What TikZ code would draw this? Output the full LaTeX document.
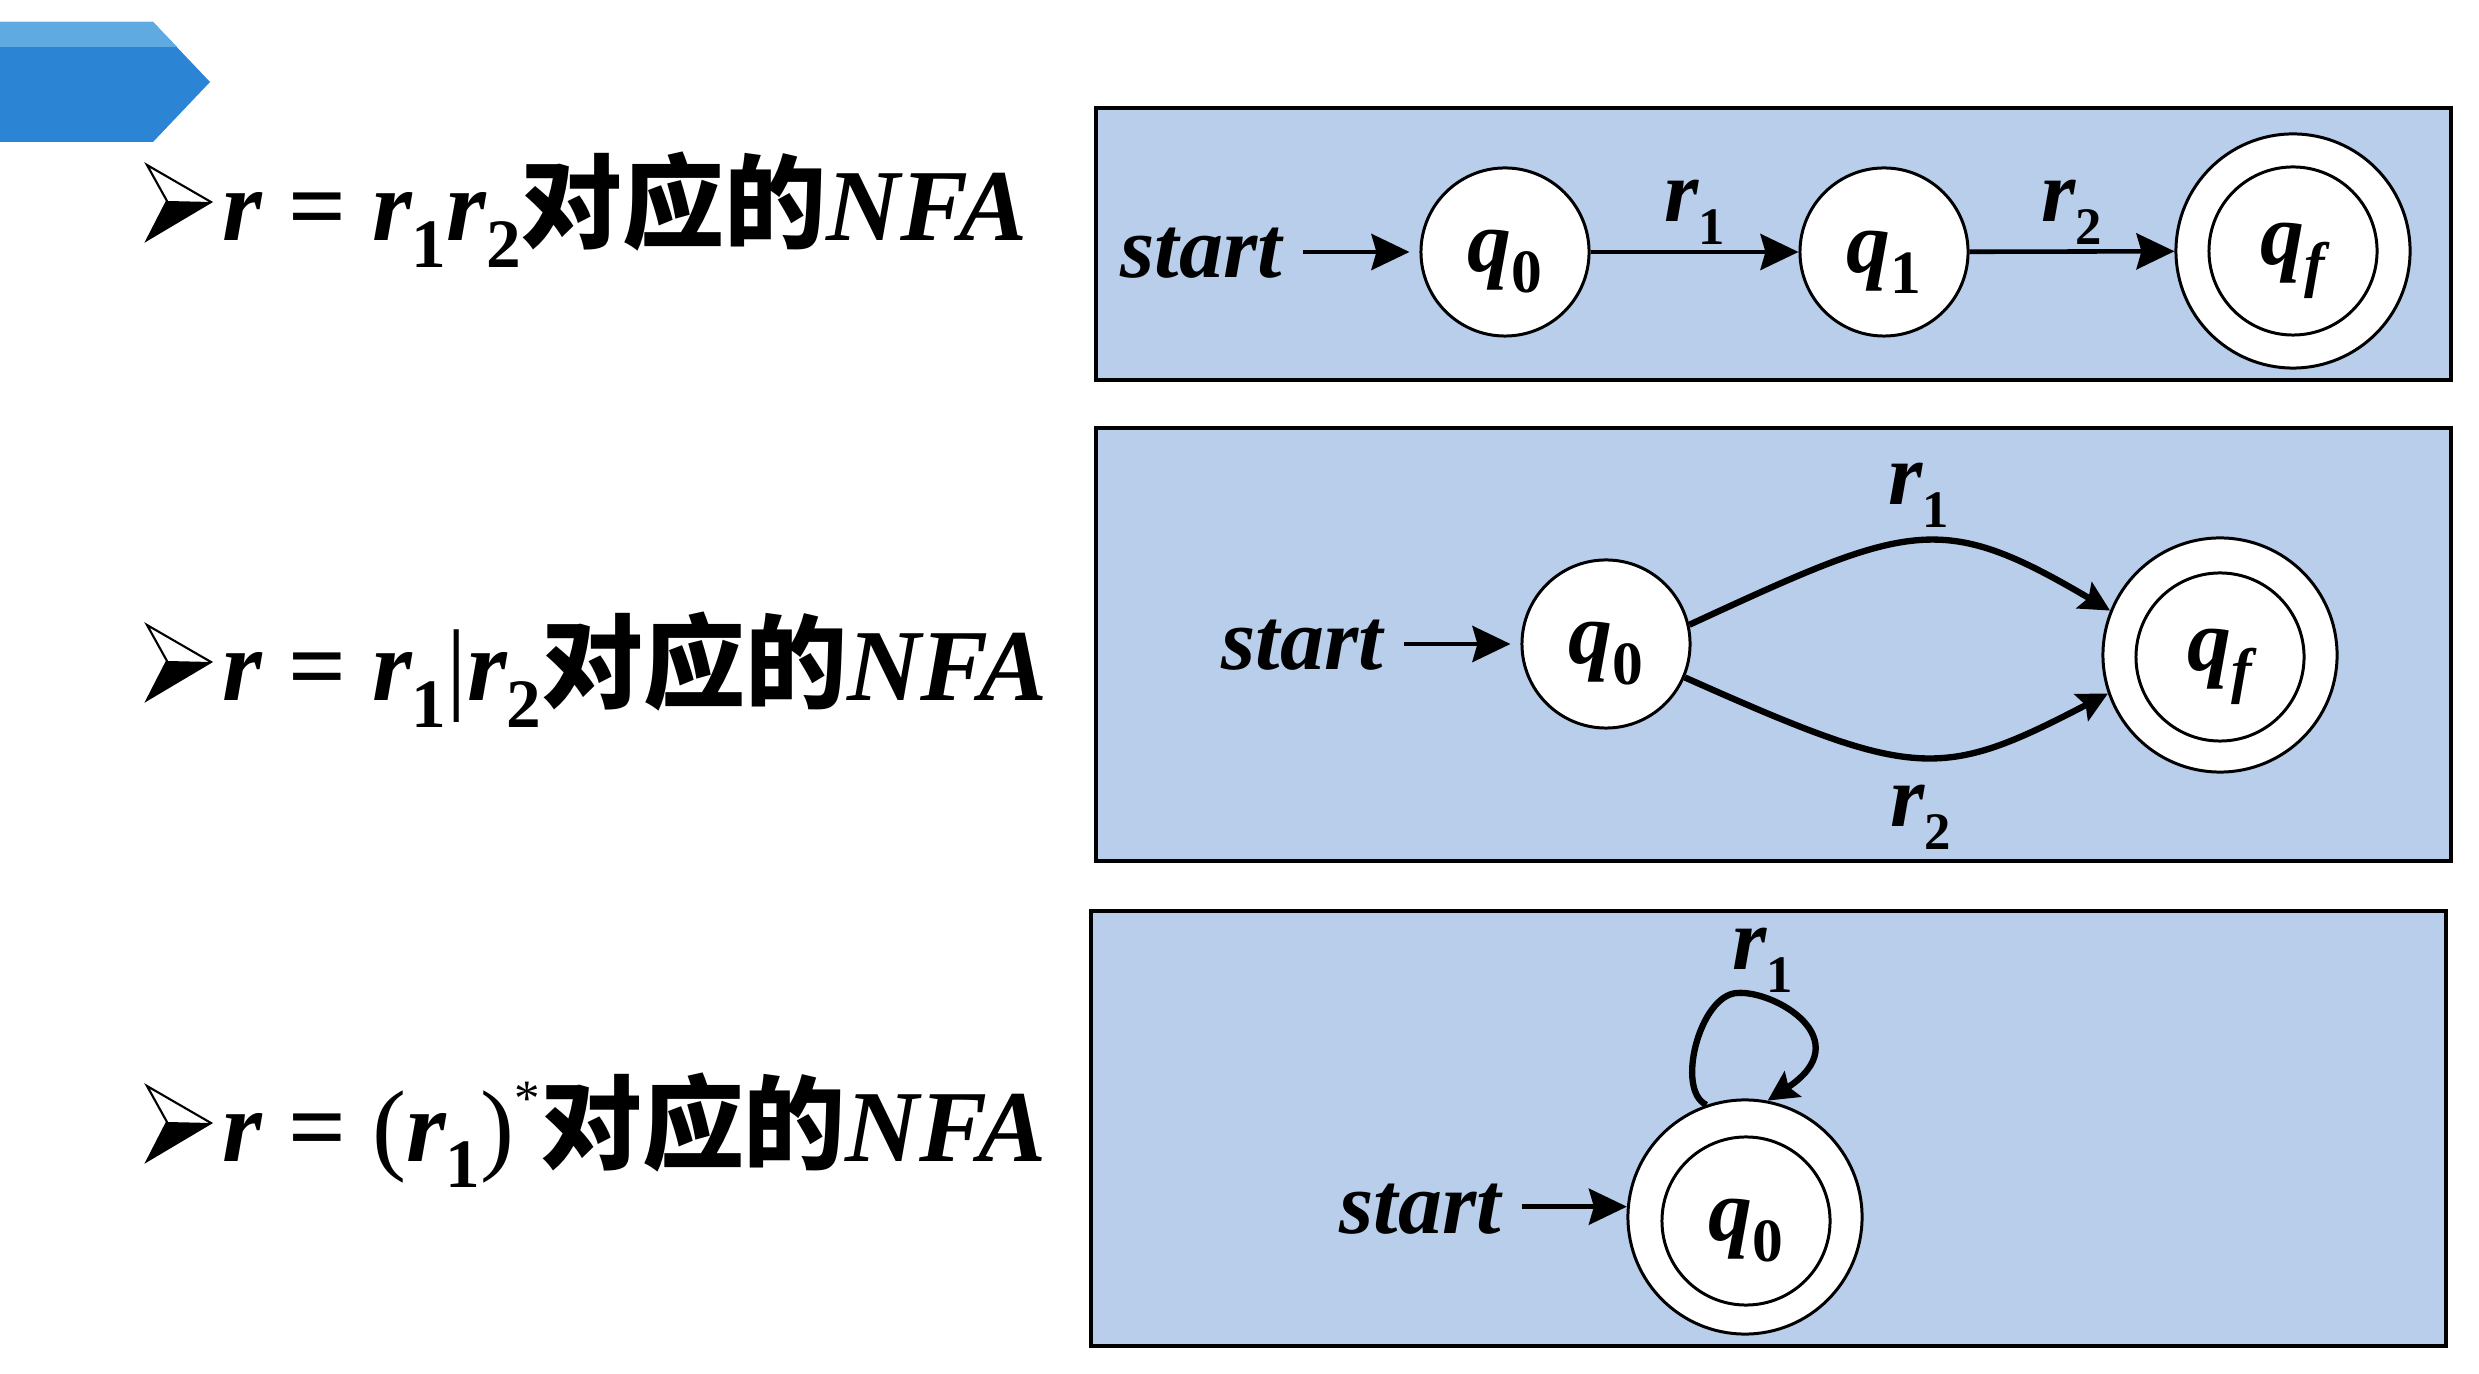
\documentclass[tikz,border=0pt]{standalone}
\usepackage{fontspec}
\setmainfont{Liberation Serif}
\newfontfamily\cjk{Noto Sans CJK SC}
\usetikzlibrary{arrows.meta}
\definecolor{boxblue}{RGB}{184,206,235}
\definecolor{bannerblue}{RGB}{43,133,212}
\definecolor{bannerlt}{RGB}{95,170,225}
\newcommand\lsub[1]{\raisebox{-0.26em}{\scalebox{0.6}{\upshape #1}}}
\newcommand\hsub[1]{\raisebox{-0.26em}{\scalebox{0.68}{\upshape #1}}}
\newcommand\qsub[1]{\raisebox{-0.24em}{\scalebox{0.7}{\upshape #1}}}
\begin{document}
\begin{tikzpicture}[x=0.01cm,y=-0.01cm,
  panel/.style={draw=black, line width=1.2pt, fill=boxblue},
  st/.style={circle, draw=black, line width=0.85pt, fill=white, inner sep=0pt, minimum size=1.68cm},
  acc/.style={circle, draw=black, line width=0.85pt, fill=white, inner sep=0pt, minimum size=2.34cm},
  inr/.style={circle, draw=black, line width=0.85pt, inner sep=0pt, minimum size=1.68cm},
  arr/.style={-{Stealth[length=0.38cm,width=0.36cm,inset=0.05cm]}, line width=1.3pt},
  cur/.style={-{Stealth[length=0.3cm,width=0.3cm,inset=0.05cm]}, line width=1.8pt},
  lab/.style={font=\fontsize{25}{30}\selectfont\bfseries\itshape, inner sep=0pt},
  qlab/.style={font=\fontsize{25}{30}\selectfont\bfseries\itshape, inner sep=0pt, yshift=-0.1cm},
  head/.style={font=\fontsize{29}{35}\selectfont\bfseries\itshape, inner sep=0pt, anchor=base west},
  bul/.pic={
    \draw[line width=0.6pt, fill=white] (0,0) -- (64,37) -- (0,75) -- (20,36) -- cycle;
    \fill (20,36) -- (64,37) -- (0,75) -- cycle;
  }
]
\useasboundingbox (0,0) rectangle (2479,1374);
\fill[white] (0,0) rectangle (2479,1374);

% banner
\fill[bannerblue] (0,22) -- (153,22) -- (210,82) -- (153,142) -- (0,142) -- cycle;
\fill[bannerlt] (0,22) -- (153,22) -- (177,47) -- (0,47) -- cycle;

% headings
\pic at (147,165) {bul};
\pic at (147,625) {bul};
\pic at (147,1086) {bul};
\node[head] (h1) at (222,241) {r \textup{=} r\hsub{1}r\hsub{2}{\cjk\upshape 对应的}NFA};
\node[head] (h2) at (222,701) {r \textup{=} r\hsub{1}{\mdseries\upshape|}r\hsub{2}{\cjk\upshape 对应的}NFA};
\node[head] (h3) at (222,1161) {r \textup{=} {\mdseries\upshape(}r\hsub{1}{\mdseries\upshape)}\raisebox{0.45em}{\scalebox{0.5}{\mdseries\upshape *}}{\cjk\upshape 对应的}NFA};

% panel 1
\fill[panel] (1096,108) rectangle (2451,380);
\node[lab, anchor=base west] (s1) at (1120,278) {start};
\node[st, label={[qlab]center:q\qsub{0}}] (q0) at (1505,252) {};
\node[st, label={[qlab]center:q\qsub{1}}] (q1) at (1884,252) {};
\node[acc] (qf) at (2293,251) {};
\node[inr, label={[qlab]center:q\qsub{\itshape f}}] (qfi) at (2293,251) {};
\draw[arr, shorten <=0.2cm, shorten >=0.1cm] (s1.east |- q0) -- (q0);
\draw[arr] (q0) -- node[lab, above=0.05cm] {r\lsub{1}} (q1);
\draw[arr] (q1) -- node[lab, above=0.05cm] {r\lsub{2}} (qf);

% panel 2
\fill[panel] (1096,428) rectangle (2451,861);
\node[lab, anchor=base west] (s2) at (1221,670) {start};
\node[st, label={[qlab]center:q\qsub{0}}] (p0) at (1606,644) {};
\node[acc] (pf) at (2220,655) {};
\node[inr, label={[qlab]center:q\qsub{\itshape f}}] (pfi) at (2220,657) {};
\draw[arr, shorten <=0.2cm, shorten >=0.1cm] (s2.east |- p0) -- (p0);
\draw[cur] (p0.13) .. controls (1910,523) and (1940,510) .. (pf.158);
\draw[cur] (p0.337) .. controls (1915,780) and (1940,781) .. (pf.199);
\node[lab, anchor=base west] (pl1) at (1888,505) {r\lsub{1}};
\node[lab, anchor=base west] (pl2) at (1890,827) {r\lsub{2}};

% panel 3
\fill[panel] (1091,911) rectangle (2446,1346);
\node[lab, anchor=base west] (s3) at (1339,1233) {start};
\node[acc] (rf) at (1745,1217) {};
\node[inr, label={[qlab]center:q\qsub{0}}] (rfi) at (1746,1221) {};
\draw[arr, shorten <=0.2cm] (s3.east |- rf.175) -- (rf.175);
\draw[cur] (rf.109) .. controls (1675,1090) and (1700,995) .. (1737,993)
  .. controls (1775,990) and (1860,1040) .. (rf.79);
\node[lab, anchor=base west] (rl1) at (1732,970) {r\lsub{1}};
\end{tikzpicture}
\end{document}
